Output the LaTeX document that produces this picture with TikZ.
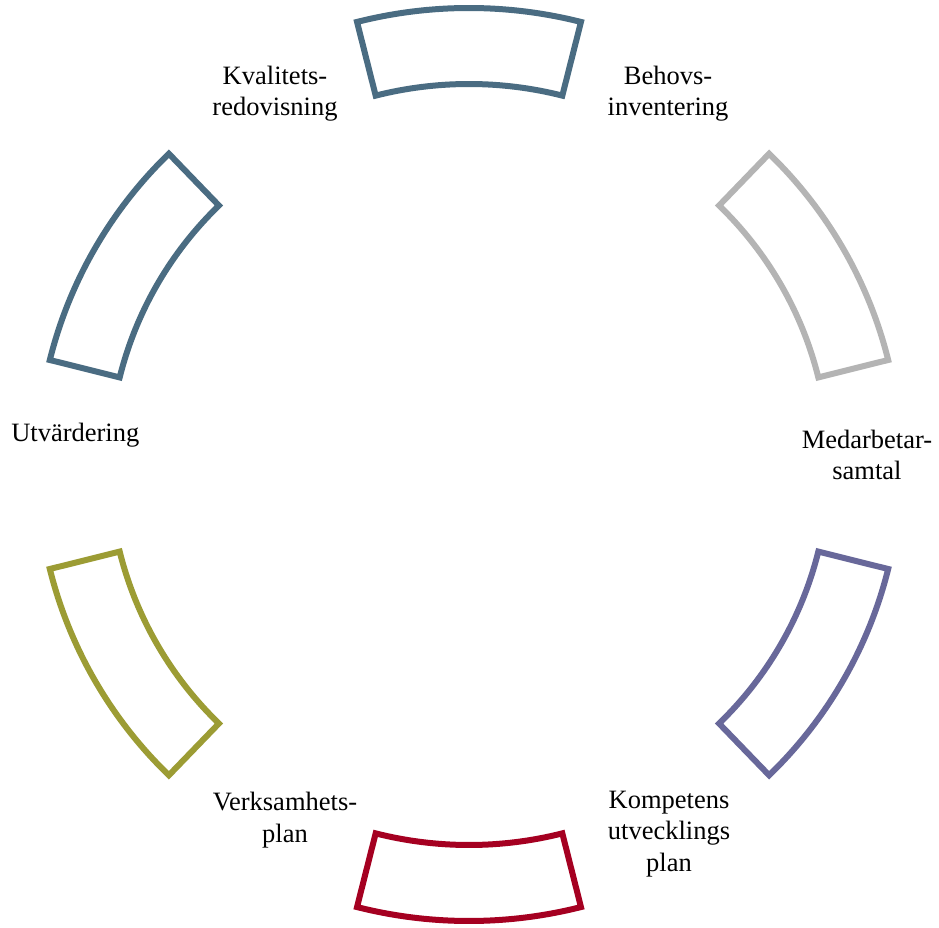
\documentclass[tikz,border=0pt]{standalone}
\usepackage{fontspec}
\setmainfont{Liberation Serif}
\definecolor{slate}{RGB}{74,108,130}
\definecolor{lgray}{RGB}{180,180,180}
\definecolor{lilac}{RGB}{104,104,154}
\definecolor{crim}{RGB}{165,0,33}
\definecolor{olive}{RGB}{156,156,52}
\tikzset{
  seg/.style={line width=6pt, line join=miter, fill=white, draw=#1},
  lbl/.style={anchor=north, inner sep=0pt, align=center, font=\fontsize{26.5}{31.5}\selectfont, text=black}
}
\begin{document}
\begin{tikzpicture}
\useasboundingbox (-469pt,-463.5pt) rectangle (470pt,464.5pt);
% top and bottom segments
\path[seg=slate] (75.8:456.5pt) arc[start angle=75.8, end angle=104.2, radius=456.5pt]
  -- (104.2:380.5pt) arc[start angle=104.2, end angle=75.8, radius=380.5pt] -- cycle;
\path[seg=crim] (255.8:456.5pt) arc[start angle=255.8, end angle=284.2, radius=456.5pt]
  -- (284.2:380.5pt) arc[start angle=284.2, end angle=255.8, radius=380.5pt] -- cycle;
% side segments
\path[seg=lgray] (14:432pt) arc[start angle=14, end angle=46, radius=432pt]
  -- (46:360pt) arc[start angle=46, end angle=14, radius=360pt] -- cycle;
\path[seg=lilac] (-46:432pt) arc[start angle=-46, end angle=-14, radius=432pt]
  -- (-14:360pt) arc[start angle=-14, end angle=-46, radius=360pt] -- cycle;
\path[seg=olive] (194:432pt) arc[start angle=194, end angle=226, radius=432pt]
  -- (226:360pt) arc[start angle=226, end angle=194, radius=360pt] -- cycle;
\path[seg=slate] (134:432pt) arc[start angle=134, end angle=166, radius=432pt]
  -- (166:360pt) arc[start angle=166, end angle=134, radius=360pt] -- cycle;
% labels
\node[lbl] (kval) at (-194pt,399pt) {Kvalitets-\\redovisning};
\node[lbl] (behov) at (199pt,399pt) {Behovs-\\inventering};
\node[lbl] (medarb) at (398pt,35pt) {Medarbetar-\\samtal};
\node[lbl] (komp) at (200pt,-326pt) {Kompetens\\utvecklings\\plan};
\node[lbl] (verks) at (-184pt,-327.5pt) {Verksamhets-\\plan};
\node[lbl] (utv) at (-393.7pt,41.5pt) {Utvärdering};
\end{tikzpicture}
\end{document}
